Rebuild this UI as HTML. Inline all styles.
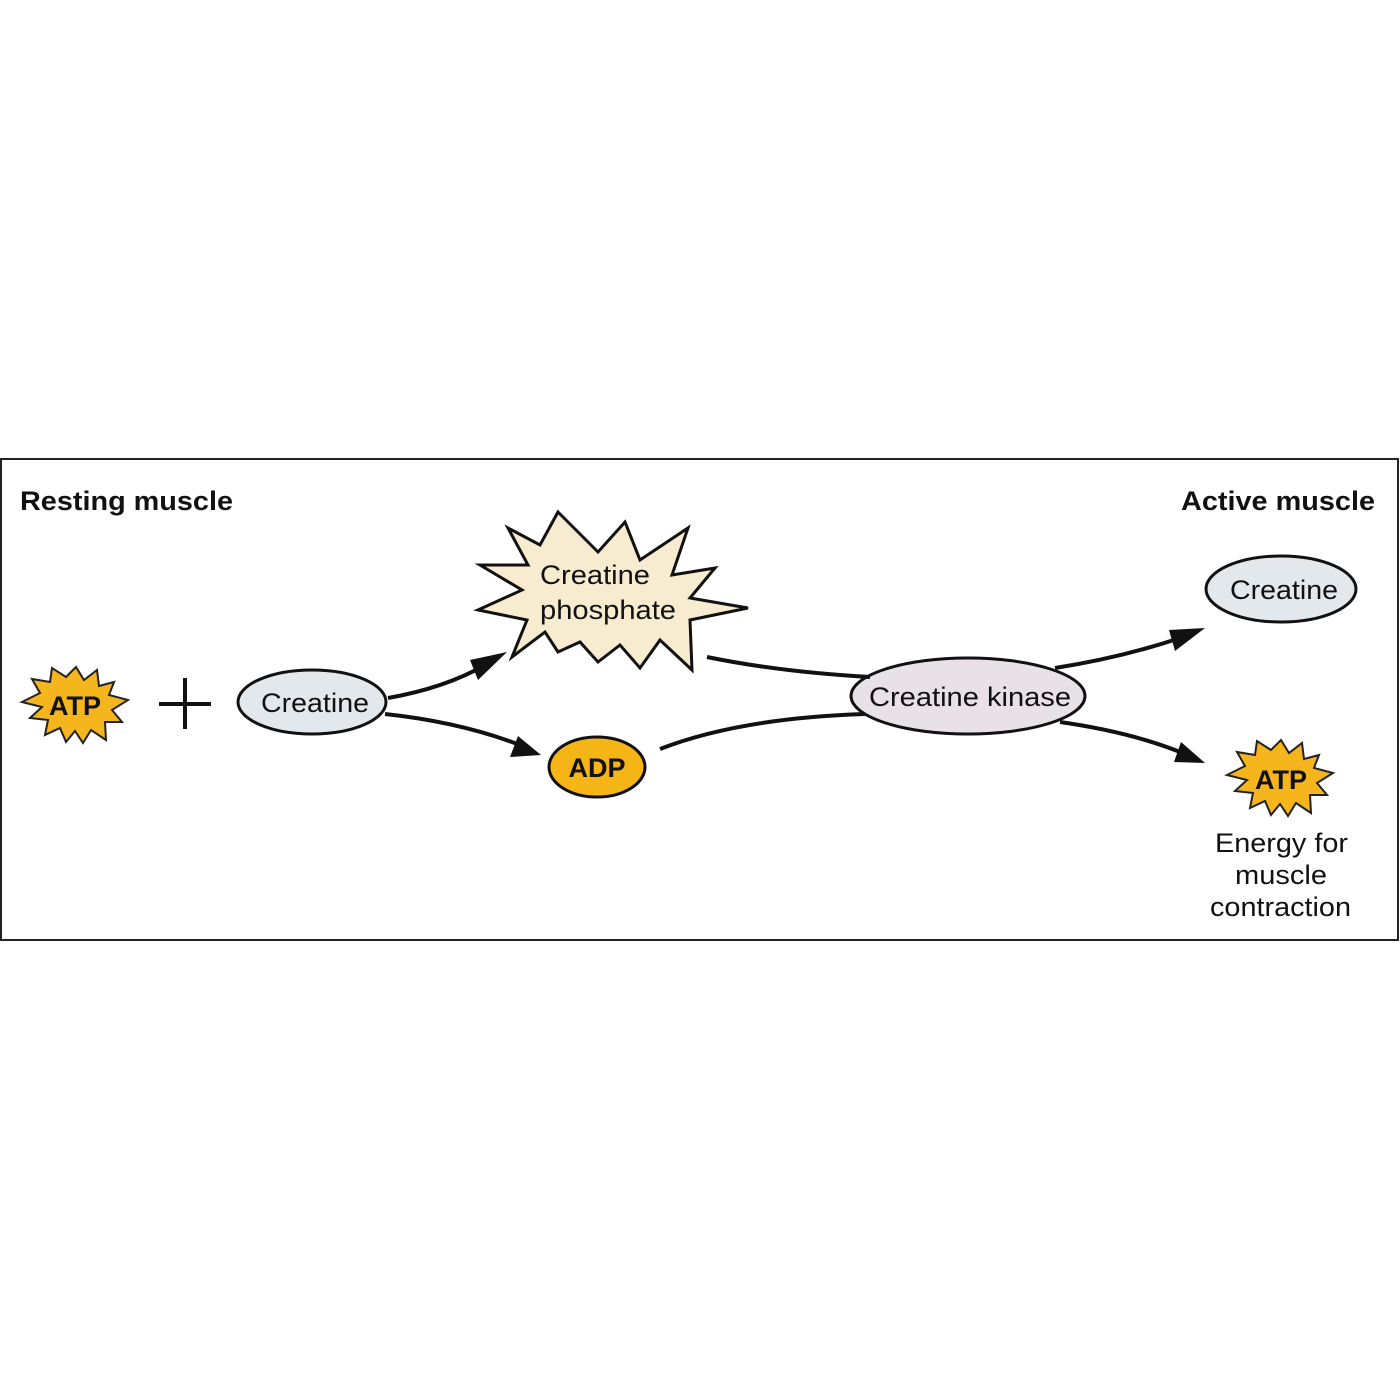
<!DOCTYPE html>
<html><head><style>html,body{margin:0;padding:0;background:#fff}svg{display:block}</style></head><body>
<svg width="1400" height="1400" viewBox="0 0 1400 1400" xmlns="http://www.w3.org/2000/svg" font-family="Liberation Sans, Arial, sans-serif">
<rect x="1" y="459" width="1397" height="481" fill="#fff" stroke="#222" stroke-width="2"/>
<text x="20" y="510" font-size="27" font-weight="bold" fill="#111" textLength="213" lengthAdjust="spacingAndGlyphs">Resting muscle</text>
<text x="1181" y="510" font-size="27" font-weight="bold" fill="#111" textLength="194" lengthAdjust="spacingAndGlyphs">Active muscle</text>

<polygon fill="#f5b51d" stroke="#222" stroke-width="2" points="76,667 84,680 97,670 99,686 114,682 109,695 128,700 112,710 122,722 105,722 106,740 91,730 83,743 75,731 66,742 60,728 45,735 48,720 30,718 42,707 22,702 40,693 32,679 50,682 52,668 66,677"/>
<text x="75" y="715" font-size="27" font-weight="bold" text-anchor="middle" fill="#111">ATP</text>

<path d="M159 704 H211 M185 678 V729" stroke="#111" stroke-width="4"/>

<ellipse cx="312" cy="702" rx="74" ry="32" fill="#e3e8ec" stroke="#111" stroke-width="3"/>
<text x="261" y="712" font-size="27" fill="#111" textLength="108" lengthAdjust="spacingAndGlyphs">Creatine</text>

<polygon fill="#f8ecd0" stroke="#111" stroke-width="3" points="558,512 598,552 625,522 640,560 688,528 672,575 715,568 690,598 748,608 690,620 692,670 660,640 640,668 620,645 598,662 580,642 558,652 545,632 512,657 527,620 478,610 522,590 480,565 528,565 508,528 540,545"/>
<text x="540" y="584" font-size="27" fill="#111" textLength="110" lengthAdjust="spacingAndGlyphs">Creatine</text>
<text x="540" y="619" font-size="27" fill="#111" textLength="136" lengthAdjust="spacingAndGlyphs">phosphate</text>

<ellipse cx="597" cy="767" rx="48" ry="30" fill="#f5b517" stroke="#111" stroke-width="3"/>
<text x="597" y="777" font-size="27" font-weight="bold" text-anchor="middle" fill="#111">ADP</text>

<ellipse cx="968" cy="696" rx="117" ry="38" fill="#e8e2e8" stroke="#111" stroke-width="3"/>
<text x="869" y="706" font-size="27" fill="#111" textLength="202" lengthAdjust="spacingAndGlyphs">Creatine kinase</text>

<ellipse cx="1281" cy="589" rx="75" ry="33" fill="#e3e8ec" stroke="#111" stroke-width="3"/>
<text x="1230" y="599" font-size="27" fill="#111" textLength="108" lengthAdjust="spacingAndGlyphs">Creatine</text>

<polygon fill="#f5b51d" stroke="#222" stroke-width="2" transform="translate(1205,73)" points="76,667 84,680 97,670 99,686 114,682 109,695 128,700 112,710 122,722 105,722 106,740 91,730 83,743 75,731 66,742 60,728 45,735 48,720 30,718 42,707 22,702 40,693 32,679 50,682 52,668 66,677"/>
<text x="1281" y="789" font-size="27" font-weight="bold" text-anchor="middle" fill="#111">ATP</text>
<text x="1215" y="852" font-size="27" fill="#111" textLength="133" lengthAdjust="spacingAndGlyphs">Energy for</text>
<text x="1235" y="884" font-size="27" fill="#111" textLength="92" lengthAdjust="spacingAndGlyphs">muscle</text>
<text x="1210" y="916" font-size="27" fill="#111" textLength="141" lengthAdjust="spacingAndGlyphs">contraction</text>

<g fill="none" stroke="#111" stroke-width="4">
<path d="M388 698 Q445 688 485 665"/>
<path d="M385 714 Q460 722 520 745"/>
<path d="M707 657 Q780 672 870 677"/>
<path d="M660 749 Q740 718 865 714"/>
<path d="M1055 668 Q1120 658 1180 638"/>
<path d="M1060 722 Q1130 732 1180 752"/>
</g>
<g fill="#111">
<polygon points="507,652 478,680 470,660"/>
<polygon points="541,755 510,757 518,736"/>
<polygon points="1205,628 1175,651 1169,630"/>
<polygon points="1205,763 1174,762 1181,742"/>
</g>
</svg>
</body></html>
